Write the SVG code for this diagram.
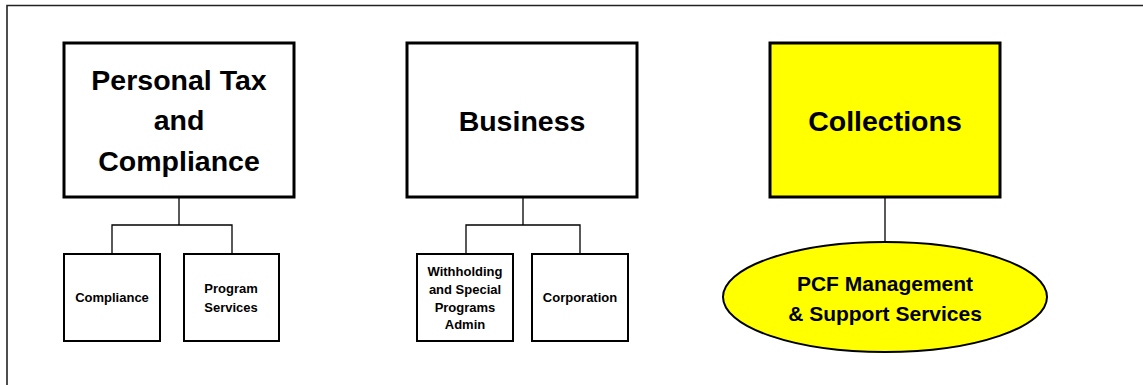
<svg xmlns="http://www.w3.org/2000/svg" width="1143" height="385" viewBox="0 0 1143 385">
<style>
.main{fill:#fff;stroke:#000;stroke-width:3}
.sub{fill:#fff;stroke:#000;stroke-width:2}
.yel{fill:#ffff00}
.conn{fill:none;stroke:#000;stroke-width:1.3}
.t{font-family:"Liberation Sans",Arial,sans-serif;font-weight:bold;fill:#000;text-anchor:middle;dominant-baseline:central}
.big{font-size:28.5px}
.mid{font-size:21px}
.sm{font-size:13px}
</style>
<rect width="1143" height="385" fill="#fff"/>
<path d="M7 385 V5.5 H1143" fill="none" stroke="#222" stroke-width="1.6"/>
<g id="connectors">
<path class="conn" d="M179 197 V225 M112 254 V225 H232 V254"/>
<path class="conn" d="M523 197 V225 M466 254 V225 H580 V254"/>
<path class="conn" d="M885 197 V242"/>
</g>
<g id="personal-tax">
<rect class="main" x="64" y="43" width="230" height="154"/>
<text class="t big" x="179" y="80">Personal Tax</text>
<text class="t big" x="179" y="120">and</text>
<text class="t big" x="179" y="161">Compliance</text>
</g>
<g id="compliance">
<rect class="sub" x="64" y="254" width="96" height="87"/>
<text class="t sm" x="112" y="297">Compliance</text>
</g>
<g id="program-services">
<rect class="sub" x="184" y="254" width="95" height="87"/>
<text class="t sm" x="231" y="288">Program</text>
<text class="t sm" x="231" y="307">Services</text>
</g>
<g id="business">
<rect class="main" x="407" y="43" width="230" height="154"/>
<text class="t big" x="522" y="121">Business</text>
</g>
<g id="withholding">
<rect class="sub" x="417" y="254" width="96" height="87"/>
<text class="t sm" x="465" y="271">Withholding</text>
<text class="t sm" x="465" y="289">and Special</text>
<text class="t sm" x="465" y="307">Programs</text>
<text class="t sm" x="465" y="324">Admin</text>
</g>
<g id="corporation">
<rect class="sub" x="532" y="254" width="96" height="87"/>
<text class="t sm" x="580" y="297">Corporation</text>
</g>
<g id="collections">
<rect class="main yel" x="770" y="43" width="230" height="154"/>
<text class="t big" x="885" y="121">Collections</text>
</g>
<g id="pcf">
<ellipse class="sub yel" cx="885" cy="297" rx="162" ry="55"/>
<text class="t mid" x="885" y="283">PCF Management</text>
<text class="t mid" x="885" y="313">&amp; Support Services</text>
</g>
</svg>
